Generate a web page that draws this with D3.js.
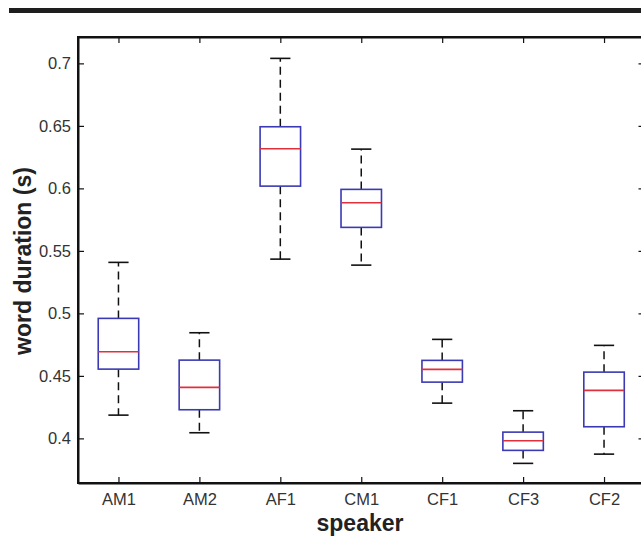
<!DOCTYPE html>
<html>
<head>
<meta charset="utf-8">
<script src="https://cdn.jsdelivr.net/npm/d3@7"></script>
<style>
  html, body { margin: 0; padding: 0; background: #fff; }
  svg { display: block; }
</style>
</head>
<body>
<svg id="chart" width="641" height="559"></svg>
<script>
// ---- data ----
const speakers   = ["AM1", "AM2", "AF1", "CM1", "CF1", "CF3", "CF2"];
const whiskerLow = [0.4186, 0.4045, 0.5434, 0.5386, 0.4282, 0.3800, 0.3874];
const q1         = [0.4554, 0.4229, 0.6018, 0.5688, 0.4450, 0.3904, 0.4093];
const medians    = [0.4693, 0.4408, 0.6317, 0.5885, 0.4552, 0.3981, 0.4384];
const q3         = [0.4960, 0.4626, 0.6493, 0.5992, 0.4624, 0.4050, 0.4530];
const whiskerHigh= [0.5408, 0.4845, 0.7040, 0.6314, 0.4792, 0.4221, 0.4744];
const yTicks     = [0.4, 0.45, 0.5, 0.55, 0.6, 0.65, 0.7];
const yTickLabels= ["0.4", "0.45", "0.5", "0.55", "0.6", "0.65", "0.7"];
const xTitle = "speaker";
const yTitle = "word duration (s)";

const svg = d3.select("#chart");
const L = 78, R = 644.5, T = 37, B = 483;

const x = d3.scaleLinear().domain([0.5, speakers.length + 0.5]).range([L, R]);
const y = d3.scaleLinear().domain([0.3643, 0.7211]).range([B, T]);

// top decorative bar
svg.append("rect").attr("x", 9).attr("y", 8).attr("width", 641 - 9).attr("height", 5).attr("fill", "#1e1e1e");

const data = speakers.map((s, i) => ({
  s, i: i + 1, lo: whiskerLow[i], q1: q1[i], med: medians[i], q3: q3[i], hi: whiskerHigh[i]
}));

const step = x(2) - x(1);
const boxW = step * 0.5;
const capW = step * 0.25;

const g = svg.append("g");
const boxes = g.selectAll("g.box").data(data).join("g").attr("class", "box");

// whiskers (dashed)
boxes.append("line")
  .attr("x1", d => x(d.i)).attr("x2", d => x(d.i))
  .attr("y1", d => y(d.q3)).attr("y2", d => y(d.hi))
  .attr("stroke", "#111").attr("stroke-width", 1.5).attr("stroke-dasharray", "8,5");
boxes.append("line")
  .attr("x1", d => x(d.i)).attr("x2", d => x(d.i))
  .attr("y1", d => y(d.q1)).attr("y2", d => y(d.lo))
  .attr("stroke", "#111").attr("stroke-width", 1.5).attr("stroke-dasharray", "8,5");
// caps
boxes.append("line")
  .attr("x1", d => x(d.i) - capW / 2).attr("x2", d => x(d.i) + capW / 2)
  .attr("y1", d => y(d.hi)).attr("y2", d => y(d.hi))
  .attr("stroke", "#111").attr("stroke-width", 1.6);
boxes.append("line")
  .attr("x1", d => x(d.i) - capW / 2).attr("x2", d => x(d.i) + capW / 2)
  .attr("y1", d => y(d.lo)).attr("y2", d => y(d.lo))
  .attr("stroke", "#111").attr("stroke-width", 1.6);
// boxes
boxes.append("rect")
  .attr("x", d => x(d.i) - boxW / 2).attr("width", boxW)
  .attr("y", d => y(d.q3)).attr("height", d => y(d.q1) - y(d.q3))
  .attr("fill", "#fff").attr("stroke", "#3a3ab4").attr("stroke-width", 1.6);
// medians
boxes.append("line")
  .attr("x1", d => x(d.i) - boxW / 2).attr("x2", d => x(d.i) + boxW / 2)
  .attr("y1", d => y(d.med)).attr("y2", d => y(d.med))
  .attr("stroke", "#e0303c").attr("stroke-width", 1.6);

// axes
const font = "'Liberation Sans', Arial, sans-serif";
const yAxis = d3.axisLeft(y).tickValues(yTicks)
  .tickFormat((d, i) => yTickLabels[i]).tickSizeInner(-6).tickSizeOuter(0).tickPadding(7);
const gy = svg.append("g").attr("transform", `translate(${L},0)`).call(yAxis);

const xAxis = d3.axisBottom(x).tickValues(d3.range(1, speakers.length + 1))
  .tickFormat(d => speakers[d - 1]).tickSizeInner(-6).tickSizeOuter(0).tickPadding(10);
const gx = svg.append("g").attr("transform", `translate(0,${B})`).call(xAxis);

const gTop = svg.append("g").attr("transform", `translate(0,${T})`)
  .call(d3.axisTop(x).tickValues(d3.range(1, speakers.length + 1)).tickFormat("").tickSizeInner(-6).tickSizeOuter(0));
const gRight = svg.append("g").attr("transform", `translate(${R},0)`)
  .call(d3.axisRight(y).tickValues(yTicks).tickFormat("").tickSizeInner(-6).tickSizeOuter(0));

[gy, gx, gTop, gRight].forEach(a => {
  a.select(".domain").attr("stroke", "#111").attr("stroke-width", 2);
  a.selectAll(".tick line").attr("stroke", "#111").attr("stroke-width", 1.2);
  a.selectAll("text").attr("font-family", font).attr("font-size", 16.5).attr("fill", "#333");
});

// frame
svg.append("rect").attr("x", L).attr("y", T).attr("width", R - L).attr("height", B - T)
  .attr("fill", "none").attr("stroke", "#111").attr("stroke-width", 2);

// titles
svg.append("text").attr("x", 360).attr("y", 531)
  .attr("text-anchor", "middle").attr("font-family", font).attr("font-weight", "bold")
  .attr("font-size", 23).attr("fill", "#222").text(xTitle);
svg.append("text").attr("transform", "translate(31,261) rotate(-90)")
  .attr("text-anchor", "middle").attr("font-family", font).attr("font-weight", "bold")
  .attr("font-size", 23).attr("fill", "#222").text(yTitle);
</script>
</body>
</html>
